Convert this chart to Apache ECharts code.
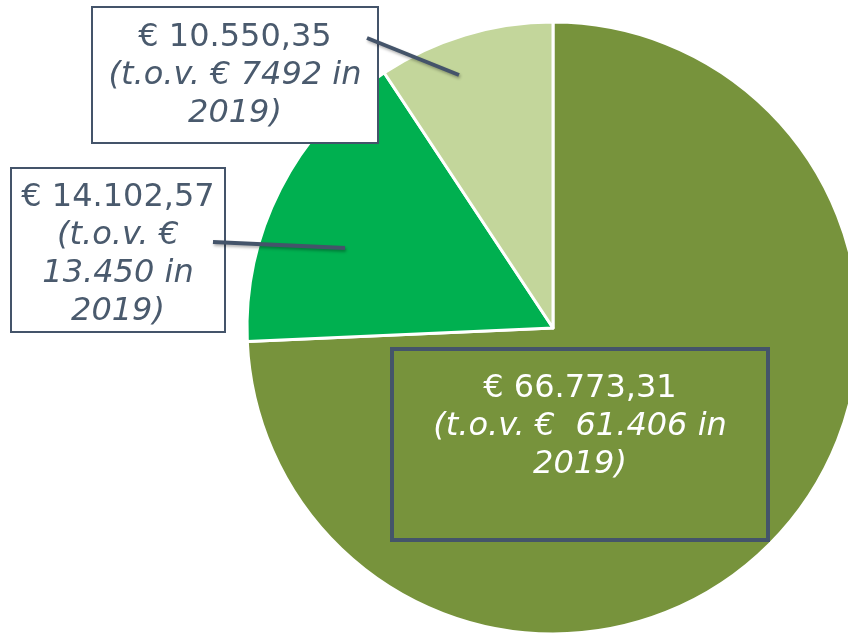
<!DOCTYPE html>
<html>
<head>
<meta charset="utf-8">
<style>
  html, body { margin: 0; padding: 0; background: #ffffff; }
  #chart { width: 848px; height: 638px; }
</style>
<script src="https://cdn.jsdelivr.net/npm/echarts@6/dist/echarts.min.js"></script>
</head>
<body>
<div id="chart"></div>
<script>
// ── Data ────────────────────────────────────────
// slice shares as measured from the slice angles in the picture
var sliceShares  = [74.3, 16.4, 9.3];
var amounts      = ['€ 66.773,31', '€ 14.102,57', '€ 10.550,35'];
var compareLines = [
    ['(t.o.v. €  61.406 in', '2019)'],
    ['(t.o.v. €', '13.450 in', '2019)'],
    ['(t.o.v. € 7492 in', '2019)']
];

// ── Styles / layout ─────────────────────────────
var sliceColors = ['#77933c', '#00b050', '#c3d69b'];
var slate = '#44546a';
var labelBoxes = [
    { x: 392, y: 349, w: 376, h: 191, pad: 21, fill: 'transparent', text: '#ffffff' },
    { x: 12,  y: 169, w: 212, h: 162, pad: 10, fill: '#ffffff',     text: '#4a5a6d' },
    { x: 93,  y: 8,   w: 284, h: 134, pad: 11, fill: '#ffffff',     text: '#4a5a6d' }
];
var leaders = [
    [213, 242, 345, 248],
    [367, 38, 459, 75]
];

var chart = echarts.init(document.getElementById('chart'), null, { renderer: 'canvas' });

var seriesData = sliceShares.map(function (v, i) {
    var b = labelBoxes[i];
    return {
        value: v,
        name: amounts[i],
        itemStyle: { color: sliceColors[i] },
        label: {
            width: b.w,
            height: b.h - b.pad,
            padding: [b.pad, 0, 0, 0],
            backgroundColor: b.fill,
            borderColor: slate,
            borderWidth: 2,
            rich: {
                a: { fontFamily: 'DejaVu Sans', fontSize: 32, lineHeight: 38, color: b.text, align: 'center' },
                b: { fontFamily: 'DejaVu Sans', fontSize: 32, lineHeight: 38, color: b.text, align: 'center', fontStyle: 'italic' }
            }
        }
    };
});

var option = {
    backgroundColor: '#ffffff',
    animation: false,
    series: [{
        type: 'pie',
        center: [553, 328],
        radius: [0, 306],
        startAngle: 90,
        clockwise: true,
        avoidLabelOverlap: false,
        silent: true,
        itemStyle: { borderColor: '#ffffff', borderWidth: 3 },
        label: {
            show: true,
            position: 'outside',
            formatter: function (p) {
                var i = p.dataIndex;
                return '{a|' + amounts[i] + '}\n' +
                    compareLines[i].map(function (s) { return '{b|' + s + '}'; }).join('\n');
            }
        },
        labelLine: { show: false },
        labelLayout: function (params) {
            var b = labelBoxes[params.dataIndex];
            return { x: b.x, y: b.y, align: 'left', verticalAlign: 'top' };
        },
        data: seriesData
    }],
    graphic: leaders.map(function (l) {
        return {
            type: 'line',
            z: 100,
            shape: { x1: l[0], y1: l[1], x2: l[2], y2: l[3] },
            style: {
                stroke: slate,
                lineWidth: 4,
                shadowBlur: 3,
                shadowOffsetX: 1,
                shadowOffsetY: 2,
                shadowColor: 'rgba(0,0,0,0.3)'
            }
        };
    })
};

chart.setOption(option);
</script>
</body>
</html>
